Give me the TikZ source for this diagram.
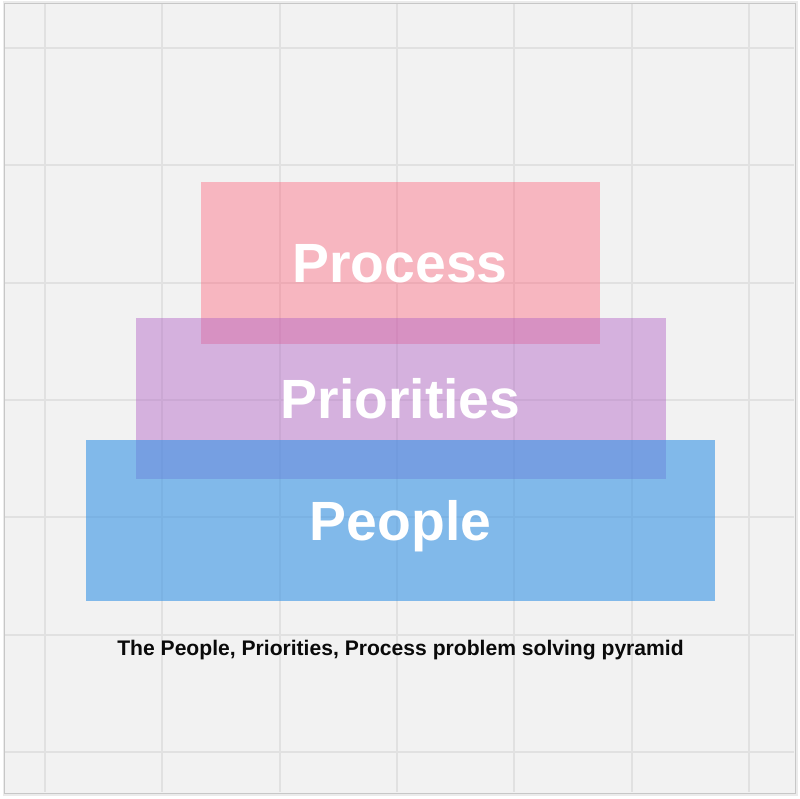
\documentclass[tikz,border=0pt]{standalone}
\usepackage{fontspec}
\setmainfont{Liberation Sans}
\definecolor{bg}{RGB}{242,242,242}
\definecolor{gridc}{RGB}{225,225,225}
\definecolor{processc}{RGB}{255,92,117}
\definecolor{prioc}{RGB}{178,100,198}
\definecolor{peoplec}{RGB}{55,147,229}
\definecolor{captionc}{RGB}{10,10,10}
\tikzset{
  layer/.style={rectangle, inner sep=0pt, draw=none},
  word/.style={text=white, font=\fontsize{55.3}{55}\selectfont\bfseries, inner sep=0pt, text height=39.6pt, text depth=0pt},
  gridline/.style={draw=gridc, line width=1.3pt},
}
\begin{document}
\begin{tikzpicture}[x=1pt,y=-1pt]
\useasboundingbox (0,0) rectangle (800,799);
\fill[white] (0,0) rectangle (800,799);
% panel shadow
\draw[draw=black!8, line width=3pt] (4,3) rectangle (796,794);
\fill[bg] (4,3) rectangle (795,793);
\draw[draw=black!22, line width=0.8pt] (4,3) rectangle (795,793);
% grid
\foreach \gx in {45,162,280,397,514,632,749}{\draw[gridline] (\gx,4) -- (\gx,792);}
\foreach \gy in {48,165,283,400,517,635,752}{\draw[gridline] (5,\gy) -- (794,\gy);}
% layers
\node[layer, fill=processc, fill opacity=0.4, minimum width=399pt, minimum height=162pt] (process) at (400,263) {};
\node[layer, fill=prioc, fill opacity=0.45, minimum width=530pt, minimum height=161pt] (priorities) at (400.5,398.5) {};
\node[layer, fill=peoplec, fill opacity=0.6, minimum width=629pt, minimum height=161pt] (people) at (400.5,520.5) {};
% words
\node[word] (tprocess) at (process.center) {Process};
\node[word] (tpriorities) at (priorities.center) {Priorities};
\node[word] (tpeople) at (people.center) {People};
% caption
\node[anchor=base, inner sep=0pt, text=captionc, font=\fontsize{21.1}{21}\selectfont\bfseries] (caption) at (400.5,655) {The People, Priorities, Process problem solving pyramid};
\end{tikzpicture}
\end{document}
